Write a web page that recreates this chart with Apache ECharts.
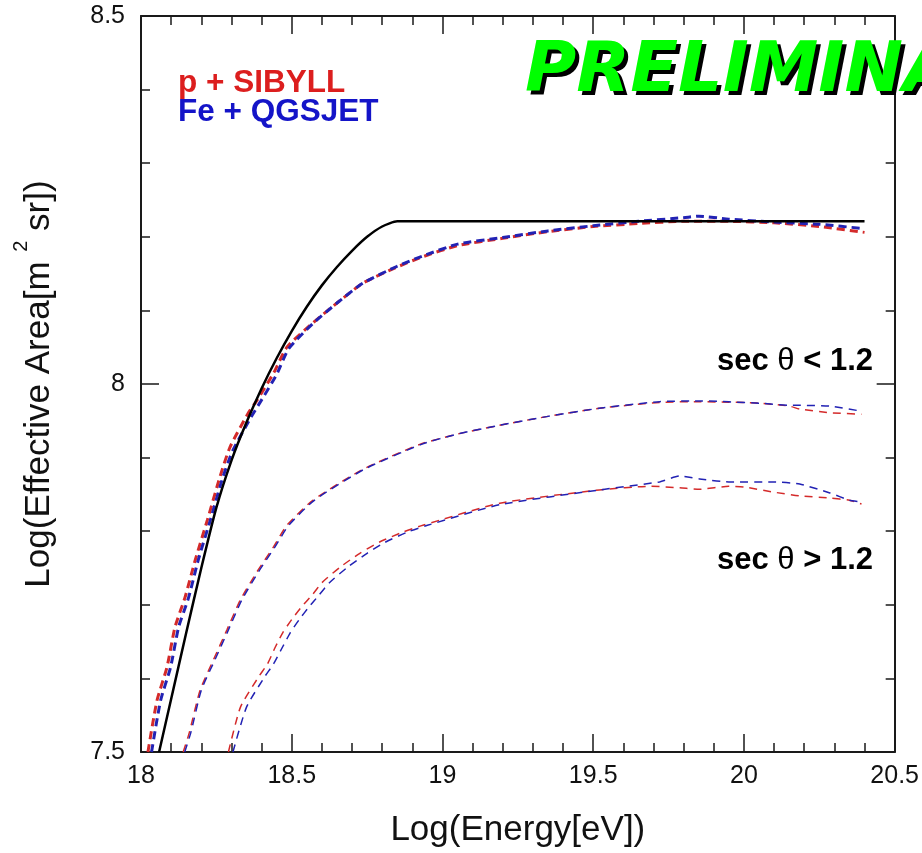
<!DOCTYPE html>
<html>
<head>
<meta charset="utf-8">
<script src="https://cdn.jsdelivr.net/npm/echarts@6/dist/echarts.min.js"></script>
<style>html,body{margin:0;padding:0;background:#fff;}#c{width:922px;height:853px;}</style>
</head>
<body>
<div id="c"></div>
<script>
// ---- data ----
var xTicks = [18, 18.5, 19, 19.5, 20, 20.5];
var yTicks = [7.5, 8, 8.5];

// full-aperture reference (black solid)
var blackX = [18.06, 18.10, 18.15, 18.20, 18.25, 18.30, 18.35, 18.40, 18.45, 18.50, 18.55, 18.60, 18.65, 18.70, 18.75, 18.80, 18.85, 20.40];
var blackY = [7.50, 7.572, 7.662, 7.750, 7.832, 7.896, 7.948, 7.994, 8.035, 8.072, 8.105, 8.134, 8.159, 8.181, 8.200, 8.214, 8.221, 8.221];

// all angles, p + SIBYLL (red) and Fe + QGSJET (blue)
var allRedX = [18.023, 18.053, 18.086, 18.113, 18.146, 18.18, 18.22, 18.262, 18.295, 18.355, 18.385, 18.44, 18.484, 18.57, 18.65, 18.736, 18.85, 18.935, 19.05, 19.2, 19.35, 19.5, 19.65, 19.8, 19.95, 20.1, 20.25, 20.4];
var allRedY = [7.50, 7.57, 7.615, 7.67, 7.71, 7.761, 7.815, 7.874, 7.914, 7.96, 7.978, 8.015, 8.05, 8.083, 8.11, 8.137, 8.159, 8.173, 8.188, 8.198, 8.207, 8.214, 8.218, 8.221, 8.221, 8.219, 8.214, 8.206];
var allBlueX = [18.035, 18.065, 18.098, 18.125, 18.158, 18.19, 18.23, 18.272, 18.305, 18.365, 18.395, 18.45, 18.49, 18.57, 18.65, 18.736, 18.85, 18.935, 19.05, 19.2, 19.35, 19.5, 19.65, 19.8, 19.85, 19.95, 20.1, 20.25, 20.4];
var allBlueY = [7.50, 7.57, 7.615, 7.67, 7.71, 7.761, 7.815, 7.874, 7.91, 7.955, 7.975, 8.013, 8.048, 8.082, 8.11, 8.137, 8.16, 8.174, 8.19, 8.199, 8.208, 8.215, 8.221, 8.226, 8.228, 8.224, 8.22, 8.217, 8.211];

// sec theta < 1.2
var lowRedX = [18.14, 18.16, 18.196, 18.24, 18.285, 18.33, 18.385, 18.44, 18.484, 18.57, 18.736, 18.925, 19.05, 19.19, 19.35, 19.52, 19.72, 19.85, 20.05, 20.15, 20.185, 20.285, 20.39];
var lowRedY = [7.50, 7.526, 7.584, 7.625, 7.666, 7.707, 7.745, 7.779, 7.808, 7.842, 7.884, 7.918, 7.932, 7.944, 7.956, 7.967, 7.975, 7.976, 7.974, 7.97, 7.966, 7.961, 7.959];
var lowBlueX = [18.145, 18.165, 18.2, 18.245, 18.29, 18.335, 18.39, 18.445, 18.49, 18.575, 18.74, 18.93, 19.05, 19.19, 19.35, 19.52, 19.72, 19.85, 20.05, 20.15, 20.185, 20.285, 20.39];
var lowBlueY = [7.50, 7.526, 7.584, 7.625, 7.666, 7.707, 7.745, 7.779, 7.808, 7.842, 7.884, 7.918, 7.932, 7.944, 7.956, 7.967, 7.976, 7.977, 7.974, 7.971, 7.971, 7.970, 7.963];

// sec theta > 1.2
var highRedX = [18.29, 18.33, 18.39, 18.42, 18.446, 18.47, 18.50, 18.53, 18.567, 18.60, 18.66, 18.726, 18.79, 18.87, 18.935, 19.19, 19.52, 19.69, 19.787, 19.853, 19.95, 20.0, 20.10, 20.185, 20.285, 20.35, 20.39];
var highRedY = [7.50, 7.561, 7.602, 7.62, 7.643, 7.662, 7.68, 7.696, 7.713, 7.73, 7.751, 7.77, 7.785, 7.799, 7.808, 7.838, 7.856, 7.861, 7.859, 7.857, 7.861, 7.86, 7.853, 7.848, 7.845, 7.842, 7.837];
var highBlueX = [18.305, 18.35, 18.41, 18.44, 18.47, 18.495, 18.525, 18.555, 18.59, 18.625, 18.685, 18.75, 18.81, 18.885, 18.95, 19.19, 19.52, 19.72, 19.787, 19.853, 19.95, 20.10, 20.185, 20.285, 20.35, 20.39];
var highBlueY = [7.50, 7.561, 7.602, 7.62, 7.643, 7.662, 7.68, 7.696, 7.713, 7.73, 7.751, 7.77, 7.785, 7.799, 7.808, 7.836, 7.856, 7.867, 7.875, 7.871, 7.867, 7.867, 7.864, 7.852, 7.842, 7.840];

function zip(xs, ys) { return xs.map(function (x, i) { return [x, ys[i]]; }); }

var RED = '#d42a2a', BLUE = '#2222b4';
var FONT = "'Liberation Sans', Arial, Helvetica, sans-serif";

function axisCommon(showLabel, isY) {
  return {
    type: 'value',
    min: isY ? 7.5 : 18, max: isY ? 8.5 : 20.5, interval: 0.5,
    axisLine: { show: true, onZero: false, lineStyle: { color: '#1a1a1a', width: 2 } },
    axisTick: { show: true, inside: true, length: 18, lineStyle: { color: '#1a1a1a', width: 1.5 } },
    minorTick: { show: true, splitNumber: 5, length: 9, lineStyle: { color: '#1a1a1a', width: 1.5 } },
    splitLine: { show: false },
    minorSplitLine: { show: false },
    axisLabel: { show: showLabel, color: '#111', fontFamily: FONT, fontSize: 25, margin: isY ? 16 : 12,
      formatter: function (v) { return String(+v.toFixed(1)); } }
  };
}

var xBottom = axisCommon(true, false);
xBottom.position = 'bottom';
xBottom.name = 'Log(Energy[eV])';
xBottom.nameLocation = 'middle';
xBottom.nameGap = 61;
xBottom.nameTextStyle = { fontFamily: FONT, fontSize: 35, color: '#111' };
var xTop = axisCommon(false, false); xTop.position = 'top';
var yLeft = axisCommon(true, true);
yLeft.position = 'left';
yLeft.name = '{n|Log(Effective Area[m }{s|2}{n| sr])}';
yLeft.nameLocation = 'middle';
yLeft.nameGap = 84;
yLeft.nameTextStyle = { fontFamily: FONT, fontSize: 35, color: '#111',
  rich: { n: { fontFamily: FONT, fontSize: 35, color: '#111', lineHeight: 46, verticalAlign: 'bottom' },
          s: { fontFamily: FONT, fontSize: 20, color: '#111', lineHeight: 46, verticalAlign: 'top' } } };
var yRight = axisCommon(false, true); yRight.position = 'right';

function line(name, xs, ys, color, width, dash) {
  return {
    name: name, type: 'line', xAxisIndex: 0, yAxisIndex: 0,
    data: zip(xs, ys), showSymbol: false, smooth: 0.2, silent: true,
    lineStyle: { color: color, width: width, type: dash || 'solid' }
  };
}

var PRE_FONT = 'italic bold 70px "DejaVu Sans", sans-serif';
var SEC_RICH = { b: { font: 'bold 31px ' + FONT, fill: '#000' }, t: { font: '31px ' + FONT, fill: '#000' } };

var option = {
  backgroundColor: '#fff',
  animation: false,
  grid: { left: 141, right: 27, top: 16, bottom: 100, containLabel: false },
  xAxis: [xBottom, xTop],
  yAxis: [yLeft, yRight],
  series: [
    line('all p', allRedX, allRedY, RED, 3, [8, 5]),
    line('all Fe', allBlueX, allBlueY, BLUE, 3, [8, 5]),
    line('low p', lowRedX, lowRedY, RED, 1.5, [8, 6]),
    line('low Fe', lowBlueX, lowBlueY, BLUE, 1.5, [8, 6]),
    line('high p', highRedX, highRedY, RED, 1.5, [8, 6]),
    line('high Fe', highBlueX, highBlueY, BLUE, 1.5, [8, 6]),
    line('full', blackX, blackY, '#000', 2.5)
  ],
  graphic: [
    { type: 'text', left: 178, top: 67, style: { text: 'p + SIBYLL', fill: '#dc1e1e', font: 'bold 31.5px ' + FONT } },
    { type: 'text', left: 178, top: 96, style: { text: 'Fe + QGSJET', fill: '#1414c8', font: 'bold 31.5px ' + FONT } },
    { type: 'text', left: 529, top: 42, z: 99, style: { text: 'PRELIMINARY', fill: '#000', font: PRE_FONT } },
    { type: 'text', left: 525, top: 38, z: 100, style: { text: 'PRELIMINARY', fill: '#00ff00', font: PRE_FONT } },
    { type: 'text', right: 49, top: 346, style: { text: '{b|sec }{t|θ}{b| < 1.2}', fill: '#000', rich: SEC_RICH } },
    { type: 'text', right: 49, top: 545, style: { text: '{b|sec }{t|θ}{b| > 1.2}', fill: '#000', rich: SEC_RICH } }
  ]
};

var chart = echarts.init(document.getElementById('c'), null, { renderer: 'canvas' });
chart.setOption(option);
</script>
</body>
</html>
